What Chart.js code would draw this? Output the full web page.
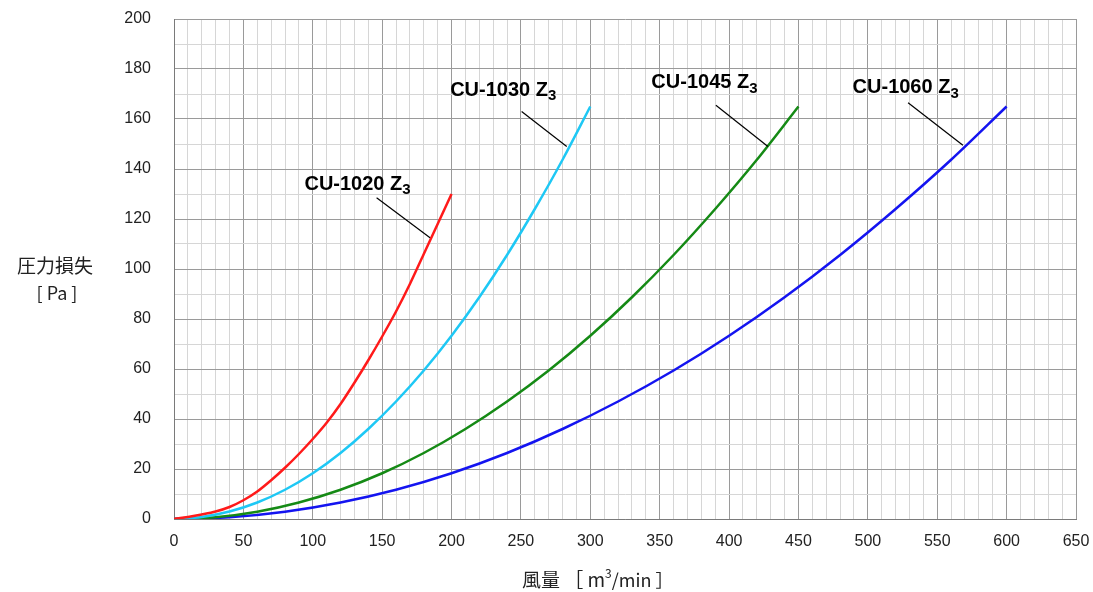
<!DOCTYPE html>
<html>
<head>
<meta charset="utf-8">
<script src="https://cdn.jsdelivr.net/npm/chart.js@4/dist/chart.umd.min.js"></script>
<style>
  html, body { margin: 0; padding: 0; background: #fff; }
  #wrap { width: 1093px; height: 592px; }
</style>
</head>
<body>
<div id="wrap"><canvas id="c"></canvas></div>
<script>
// airflow [m3/min] vs pressure loss [Pa]
const x1020 = [0, 10, 20, 30, 40, 50, 60, 70, 80, 90, 100, 110, 120, 130, 140, 150, 160, 170, 180, 190, 200];
const y1020 = [0, 0.8, 1.8, 3.0, 4.8, 7.5, 11, 15.5, 20.5, 26, 32, 38.5, 46, 54.5, 63.5, 73, 83, 94, 106, 118, 130];

const x1030 = [0, 20, 40, 60, 80, 100, 120, 140, 160, 180, 200, 220, 240, 260, 280, 300];
const y1030 = [0, 0.8, 3, 6.6, 11.7, 18.3, 26.4, 36, 47, 59.4, 73.3, 88.7, 105.6, 124, 143.7, 165];

const x1045 = [0, 30, 60, 90, 120, 150, 180, 210, 240, 270, 300, 330, 360, 390, 420, 450];
const y1045 = [0, 0.7, 2.9, 6.6, 11.7, 18.3, 26.4, 36, 47, 59.4, 73.3, 88.7, 105.6, 124, 143.7, 165];

const x1060 = [0, 40, 80, 120, 160, 200, 240, 280, 320, 360, 400, 440, 480, 520, 560, 600];
const y1060 = [0, 0.7, 2.9, 6.6, 11.7, 18.3, 26.4, 36, 47, 59.4, 73.3, 88.7, 105.6, 124, 143.7, 165];

const seriesNames = ['CU-1020', 'CU-1030', 'CU-1045', 'CU-1060'];
const seriesColors = ['#ff1a1a', '#1ec8f5', '#158a15', '#1414f0'];

// label text position (left, middle) and leader line, in data units
const labelPos = [[94, 134], [199, 171.5], [344, 174.5], [489, 172.5]];
const leaders = [
  [[146, 128.5], [184.5, 112.5]],
  [[250.5, 163], [283, 149]],
  [[390.5, 165.5], [428, 149]],
  [[529, 166.5], [568.5, 149.5]]
];

function pts(xs, ys) { return xs.map((x, i) => ({x: x, y: ys[i]})); }

const allX = [x1020, x1030, x1045, x1060];
const allY = [y1020, y1030, y1045, y1060];

const datasets = seriesNames.map((n, i) => ({
  label: n,
  data: pts(allX[i], allY[i]),
  borderColor: seriesColors[i],
  borderWidth: 2.5,
  pointRadius: 0,
  fill: false,
  cubicInterpolationMode: 'monotone'
}));

const tickFont = {family: "'Liberation Sans', Arial, sans-serif", size: 16};

const annotate = {
  id: 'annotate',
  afterDatasetsDraw(chart) {
    const ctx = chart.ctx, xs = chart.scales.x, ys = chart.scales.y;
    ctx.save();
    // leader lines
    ctx.strokeStyle = '#000';
    ctx.lineWidth = 1.2;
    leaders.forEach(l => {
      ctx.beginPath();
      ctx.moveTo(xs.getPixelForValue(l[0][0]), ys.getPixelForValue(l[0][1]));
      ctx.lineTo(xs.getPixelForValue(l[1][0]), ys.getPixelForValue(l[1][1]));
      ctx.stroke();
    });
    // series labels
    ctx.fillStyle = '#000';
    ctx.textBaseline = 'middle';
    ctx.textAlign = 'left';
    seriesNames.forEach((n, i) => {
      let px = xs.getPixelForValue(labelPos[i][0]);
      const py = ys.getPixelForValue(labelPos[i][1]);
      ctx.font = "bold 20px 'Liberation Sans', sans-serif";
      const t = n + ' Z';
      ctx.fillText(t, px, py);
      px += ctx.measureText(t).width;
      ctx.font = "bold 15px 'Liberation Sans', sans-serif";
      ctx.fillText('3', px, py + 6);
    });
    // y axis title
    ctx.fillStyle = '#222';
    ctx.textAlign = 'center';
    ctx.font = "19px 'Noto Sans CJK JP', sans-serif";
    ctx.fillText('圧力損失', 55, 266);
    ctx.font = "18px 'Noto Sans CJK JP', sans-serif";
    ctx.fillText('[ Pa ]', 57, 293);
    // x axis title
    const cy = 580;
    ctx.textAlign = 'left';
    let x0 = 522;
    ctx.font = "19px 'Noto Sans CJK JP', sans-serif";
    const p1 = '風量 ［ m';
    ctx.fillText(p1, x0, cy);
    x0 += ctx.measureText(p1).width;
    ctx.font = "12px 'Noto Sans CJK JP', sans-serif";
    ctx.fillText('3', x0, cy - 7);
    x0 += ctx.measureText('3').width;
    ctx.font = "18px 'Noto Sans CJK JP', sans-serif";
    ctx.fillText('/min ］', x0, cy);
    ctx.restore();
  }
};

new Chart(document.getElementById('c'), {
  type: 'line',
  data: {datasets: datasets},
  options: {
    responsive: true,
    maintainAspectRatio: false,
    animation: false,
    layout: {padding: {top: 19, right: 17, left: 0, bottom: 0}},
    plugins: {legend: {display: false}, tooltip: {enabled: false}},
    scales: {
      x: {
        type: 'linear',
        min: 0, max: 650,
        ticks: {
          stepSize: 10, autoSkip: false, maxRotation: 0,
          color: '#222', font: tickFont, padding: 13,
          callback: v => (v % 50 === 0 ? String(v) : '')
        },
        grid: {
          color: c => (c.tick && c.tick.value % 50 === 0 ? '#9a9a9a' : '#d6d6d6'),
          lineWidth: 1,
          drawTicks: false
        },
        border: {color: '#7a7a7a', width: 1},
        afterFit: s => { s.height = 73; s.paddingLeft = 0; s.paddingRight = 0; }
      },
      y: {
        min: 0, max: 200,
        ticks: {
          stepSize: 10, autoSkip: false,
          color: '#222', font: tickFont, padding: 23,
          callback: v => (v % 20 === 0 ? String(v) : '')
        },
        grid: {
          color: c => (c.tick && c.tick.value % 20 === 0 ? '#9a9a9a' : '#d6d6d6'),
          lineWidth: 1,
          drawTicks: false
        },
        border: {color: '#7a7a7a', width: 1},
        afterFit: s => { s.width = 174; s.paddingTop = 0; s.paddingBottom = 0; }
      }
    }
  },
  plugins: [annotate]
});
</script>
</body>
</html>
